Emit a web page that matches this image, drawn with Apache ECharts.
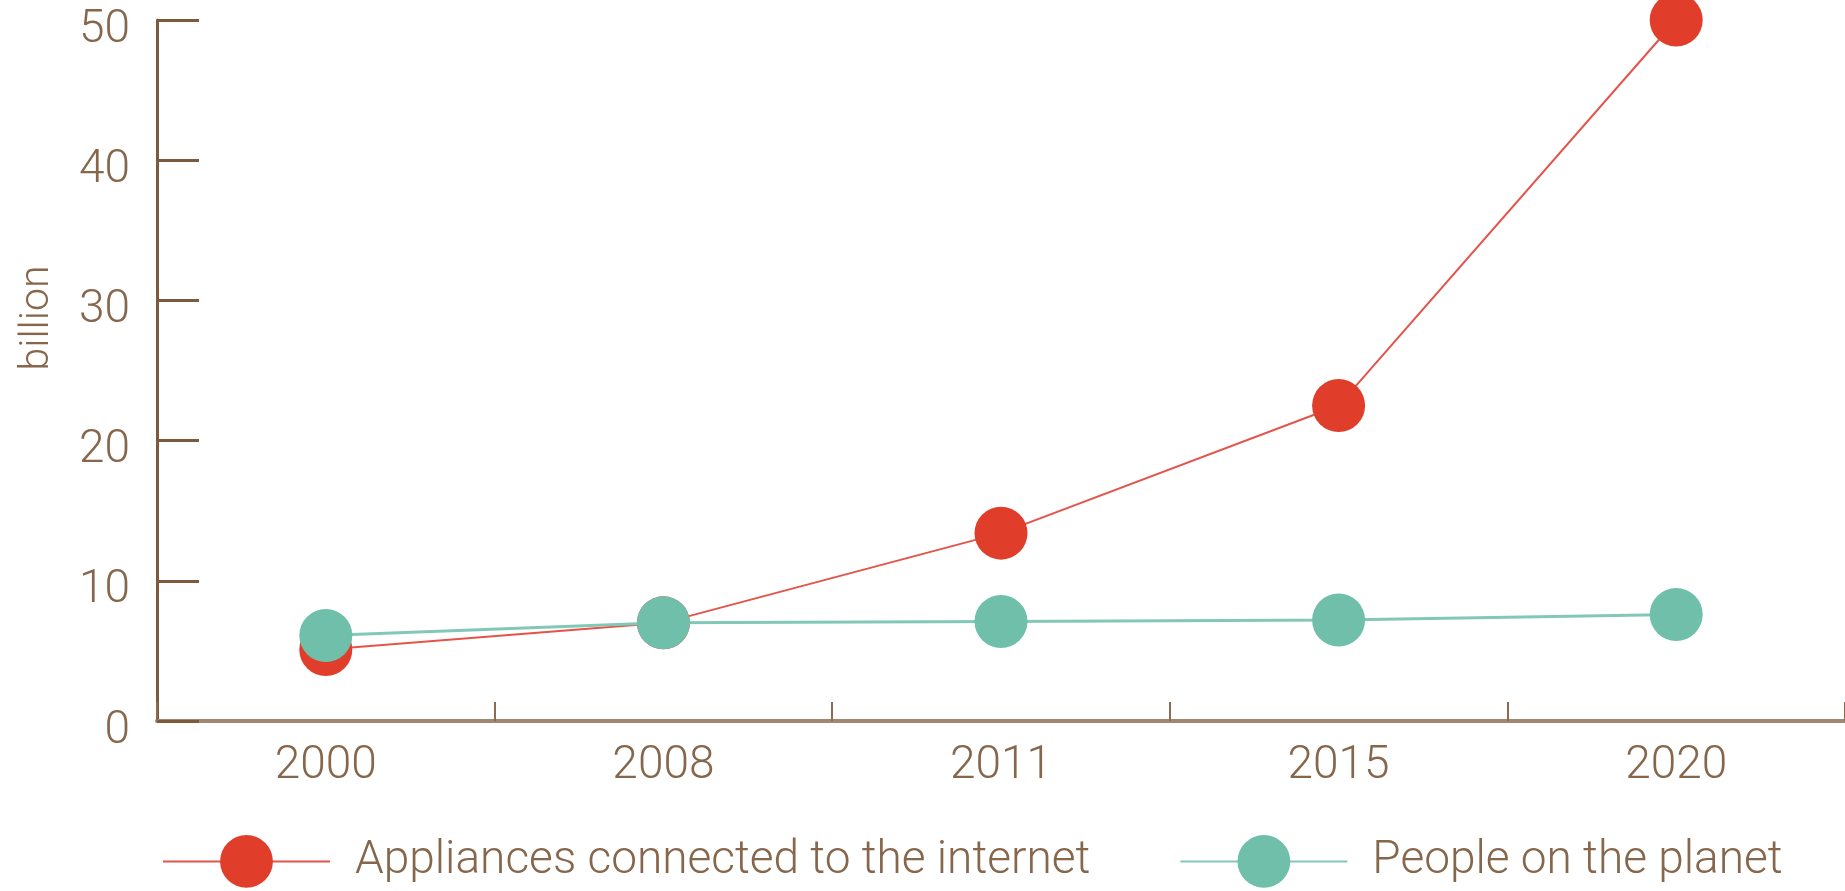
<!DOCTYPE html>
<html><head><meta charset="utf-8">
<script src="https://cdn.jsdelivr.net/npm/echarts@6/dist/echarts.min.js"></script>
<style>html,body{margin:0;padding:0;background:#fff}#c{width:1845px;height:891px}</style>
</head><body><div id="c"></div>
<script>
const years = ['2000','2008','2011','2015','2020'];
const appliances = [5.1, 7.0, 13.4, 22.5, 50];
const people = [6.1, 7.0, 7.1, 7.2, 7.6];
const yTicks = {min: 0, max: 50, interval: 10};
const seriesNames = ['Appliances connected to the internet', 'People on the planet'];
const yName = 'billion';

const txt = '#86674c';
const font = 'Roboto';
const chart = echarts.init(document.getElementById('c'));
chart.setOption({
  animation: false,
  grid: {left: 157, right: -2, top: 20, bottom: 170, containLabel: false},
  xAxis: {
    type: 'category', data: years, boundaryGap: true,
    axisLine: {lineStyle: {color: '#a08770', width: 4}},
    axisTick: {show: true, inside: true, length: 19, lineStyle: {color: '#8b6c52', width: 2}},
    axisLabel: {color: txt, fontFamily: font, fontWeight: 300, fontSize: 46, margin: 22}
  },
  yAxis: {
    type: 'value', min: yTicks.min, max: yTicks.max, interval: yTicks.interval,
    splitLine: {show: false},
    axisLine: {show: true, lineStyle: {color: '#7b5a3d', width: 3}},
    axisTick: {show: true, inside: true, length: 42, lineStyle: {color: '#7b5a3d', width: 3}},
    axisLabel: {color: txt, fontFamily: font, fontWeight: 300, fontSize: 46, margin: 27,
                verticalAlign: 'top', lineHeight: 20}
  },
  graphic: [{
    type: 'text', x: 38, y: 318, rotation: Math.PI / 2,
    style: {text: yName, fill: txt, font: '300 41px Roboto', align: 'center', verticalAlign: 'middle'}
  }],
  legend: {
    left: 157, top: 830, itemWidth: 167, itemHeight: 66, itemGap: 89,
    textStyle: {color: txt, fontFamily: font, fontWeight: 300, fontSize: 46, padding: [0, 0, 0, 20]},
    data: seriesNames
  },
  series: [
    {name: seriesNames[0], type: 'line', data: appliances, symbol: 'circle', symbolSize: 53,
     itemStyle: {color: '#e03e2b'}, lineStyle: {color: '#e4544a', width: 2}, z: 2},
    {name: seriesNames[1], type: 'line', data: people, symbol: 'circle', symbolSize: 53,
     itemStyle: {color: '#6fbfab'}, lineStyle: {color: '#82c8b7', width: 3}, z: 3}
  ]
});
</script></body></html>
